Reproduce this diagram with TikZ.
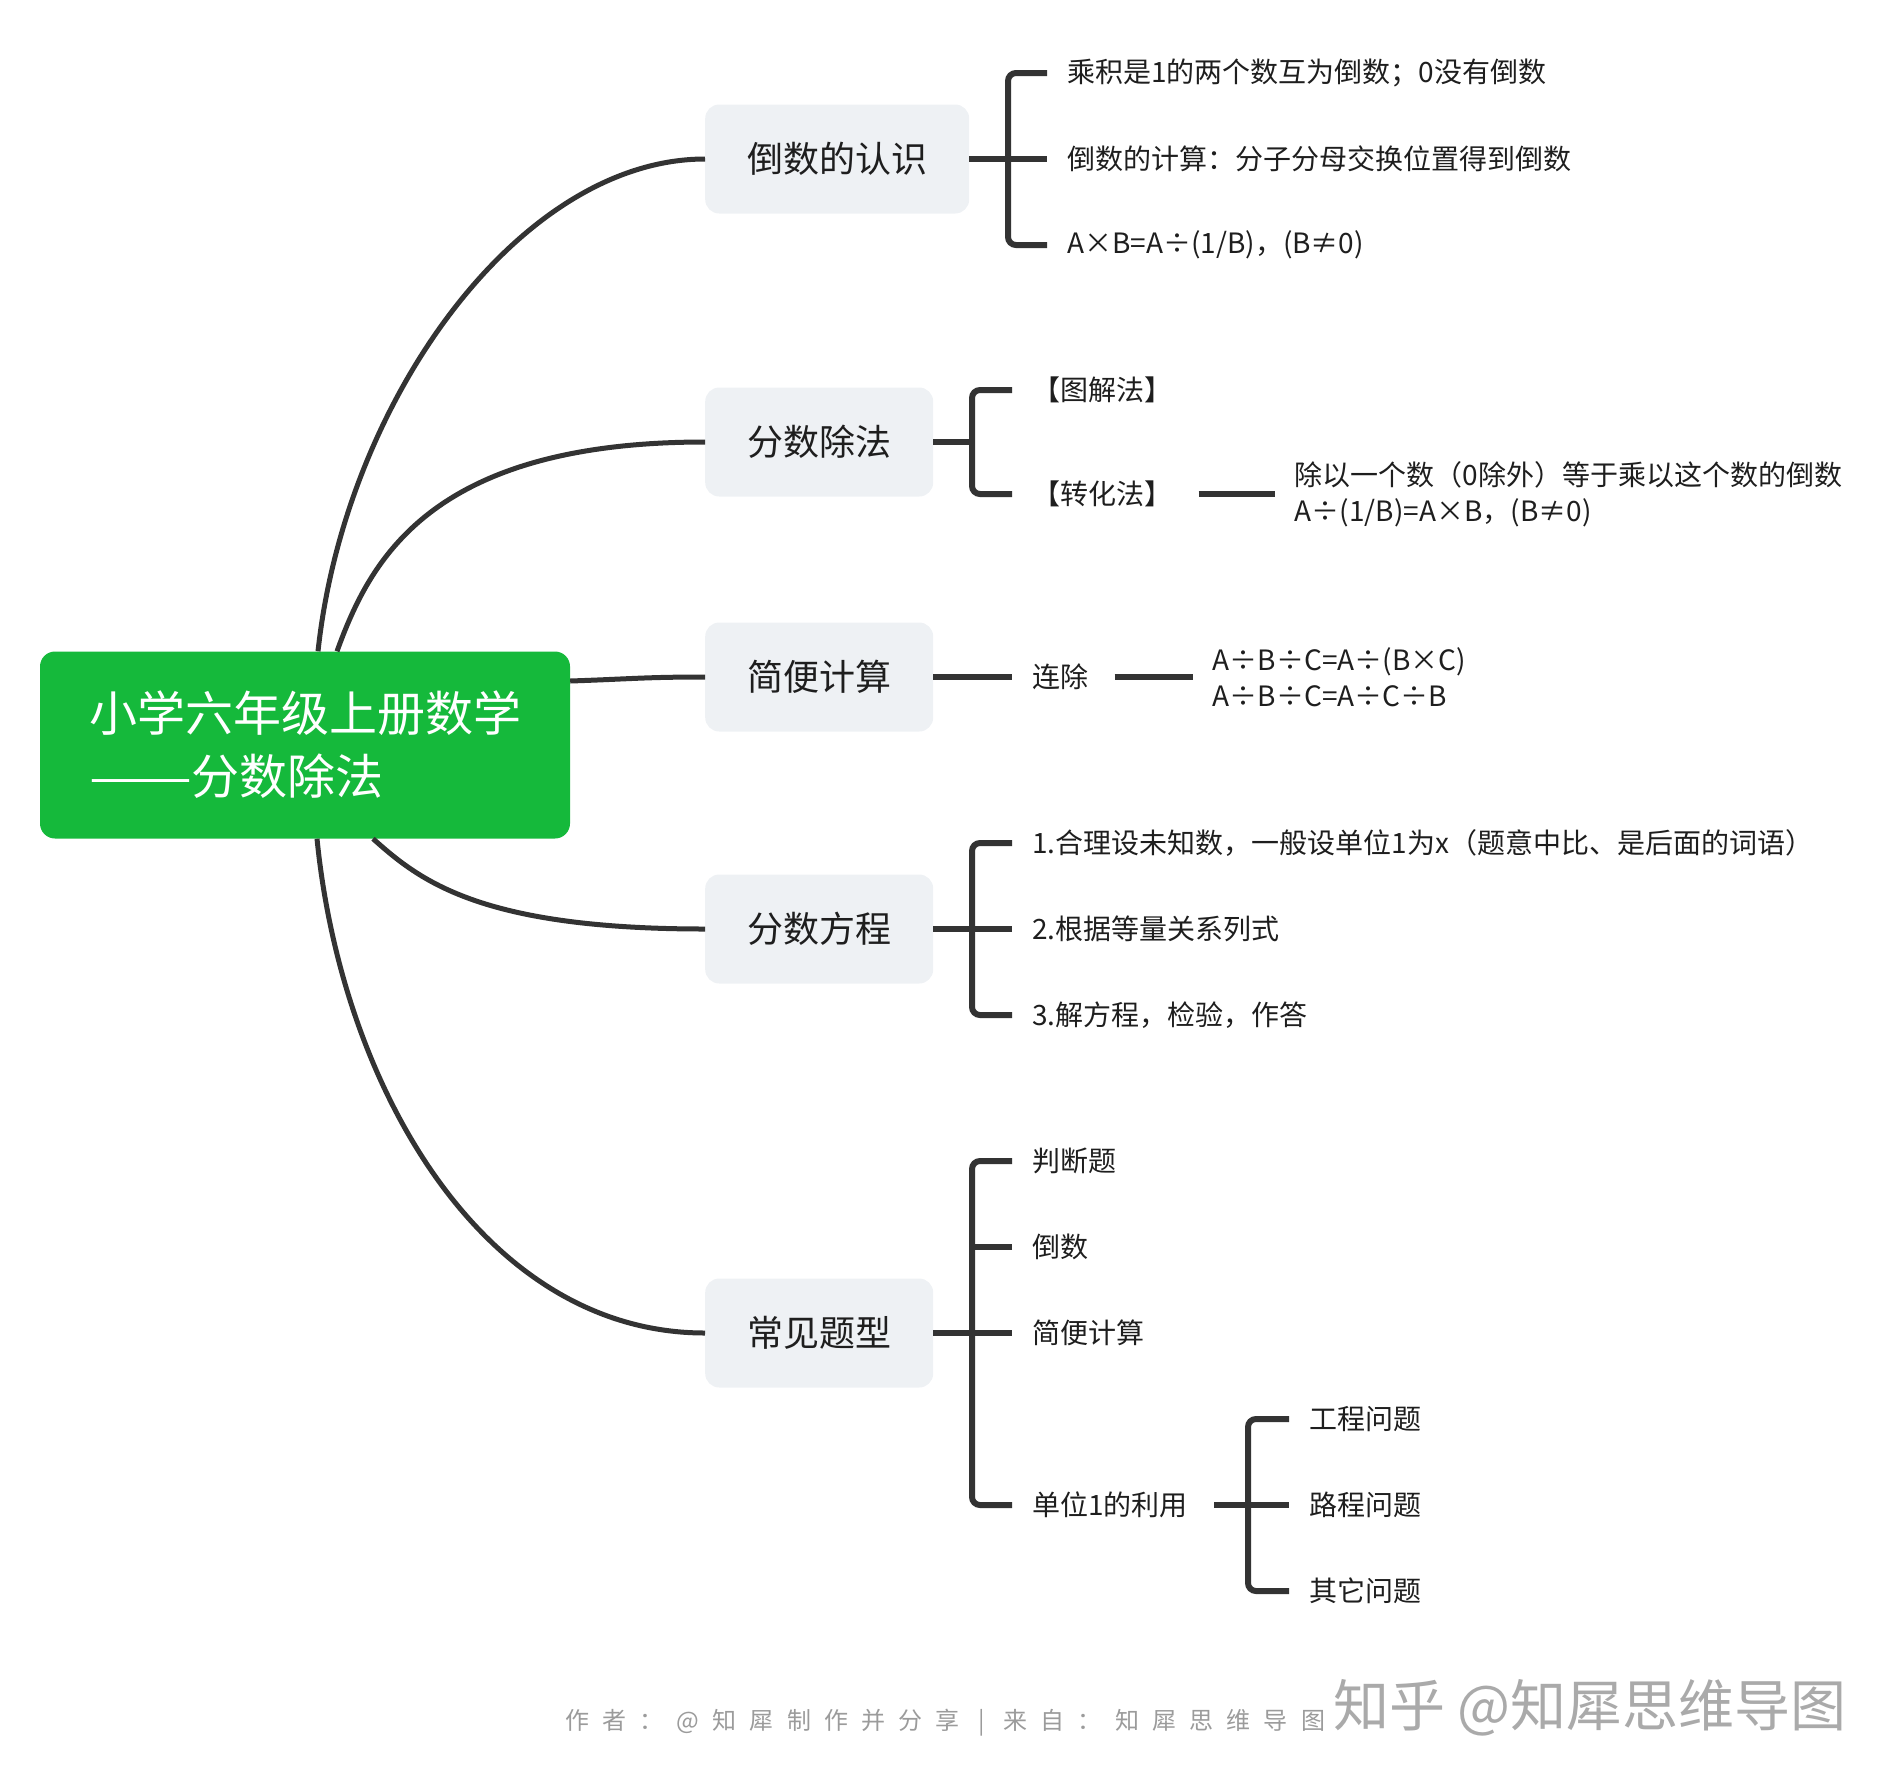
\documentclass[tikz,border=0pt]{standalone}
\usepackage{fontspec}
\setmainfont{Noto Sans CJK SC}
\usepackage{tikz}
\usetikzlibrary{positioning}
\definecolor{rootgreen}{HTML}{15B93B}
\definecolor{topicfill}{HTML}{EEF1F4}
\definecolor{linkgray}{HTML}{333333}
\definecolor{inkgray}{HTML}{1E1E1E}
\definecolor{markgray}{HTML}{9B9B9B}
\newcommand{\longdash}{{\addfontfeature{FakeStretch = 1.28}——}}

\begin{document}
\begin{tikzpicture}[x = 1pt, y = -1pt,
    rootbox/.style = { fill = rootgreen, text = white, rounded corners = 15pt, align = left,
      minimum width = 530pt, minimum height = 187pt, inner sep = 0pt,
      font = \fontsize{48}{63}\selectfont },
    topic/.style = { fill = topicfill, text = inkgray, rounded corners = 14pt, anchor = west,
      minimum height = 109pt, inner xsep = 42pt, font = \fontsize{36}{43}\selectfont },
    leaf/.style = { anchor = west, inner xsep = 20pt, inner ysep = 4pt, align = left,
      text = inkgray, font = \fontsize{28}{36}\selectfont },
    branch/.style = { draw = linkgray, line width = 5pt },
    bracketline/.style = { draw = linkgray, line width = 6pt, rounded corners = 8pt },
    credit/.style = { anchor = west, text = markgray, inner sep = 0pt,
      font = {\fontsize{24}{28}\selectfont\addfontfeature{LetterSpace = 55}} },
    brandmark/.style = { anchor = west, text = markgray!85, inner sep = 0pt,
      font = \fontsize{56}{60}\selectfont }]
    \useasboundingbox (0,0) rectangle (1900,1786);

    \node[rootbox] (root) at (305,745) { 小学六年级上册数学\\\longdash 分数除法 };

    \node[topic] (n1) at (705,159) { 倒数的认识 };
    \node[topic] (n2) at (705,442) { 分数除法 };
    \node[topic] (n3) at (705,677) { 简便计算 };
    \node[topic] (n4) at (705,929) { 分数方程 };
    \node[topic] (n5) at (705,1333) { 常见题型 };

    \node[leaf] (l11) at (1047,73) { 乘积是1的两个数互为倒数；0没有倒数 };
    \node[leaf] (l12) at (1047,159) { 倒数的计算：分子分母交换位置得到倒数 };
    \node[leaf] (l13) at (1047,245) { A×B=A÷(1/B)，(B≠0) };
    \node[leaf] (l21) at (1012,390) { 【图解法】 };
    \node[leaf] (l22) at (1012,494) { 【转化法】 };
    \node[leaf, right = 76pt of l22] (l23) { 除以一个数（0除外）等于乘以这个数的倒数\\A÷(1/B)=A×B，(B≠0) };
    \node[leaf] (l31) at (1012,677) { 连除 };
    \node[leaf, right = 78pt of l31] (l32) { A÷B÷C=A÷(B×C)\\A÷B÷C=A÷C÷B };
    \node[leaf] (l41) at (1012,843) { 1.合理设未知数，一般设单位1为x（题意中比、是后面的词语） };
    \node[leaf] (l42) at (1012,929) { 2.根据等量关系列式 };
    \node[leaf] (l43) at (1012,1015) { 3.解方程，检验，作答 };
    \node[leaf] (l51) at (1012,1161) { 判断题 };
    \node[leaf] (l52) at (1012,1247) { 倒数 };
    \node[leaf] (l53) at (1012,1333) { 简便计算 };
    \node[leaf] (l54) at (1012,1505) { 单位1的利用 };
    \node[leaf] (l61) at (1289,1419) { 工程问题 };
    \node[leaf] (l62) at (1289,1505) { 路程问题 };
    \node[leaf] (l63) at (1289,1591) { 其它问题 };

    \coordinate (b1) at (1008,159);
    \coordinate (b2) at (972,442);
    \coordinate (b4) at (972,929);
    \coordinate (b5) at (972,1333);
    \coordinate (b6) at (1248,1505);

    \draw[branch] ([xshift=13pt]root.north) .. controls +(27,-251) and +(-185,0) .. (n1.west);
    \draw[branch] ([xshift=32pt]root.north) .. controls +(33,-91) and +(-275,0) .. (n2.west);
    \draw[branch] ([yshift=64pt]root.east) .. controls +(60,-2) and +(-60,0) .. (n3.west);
    \draw[branch] ([xshift=68pt]root.south) .. controls +(47,42) and +(-225,0) .. (n4.west);
    \draw[branch] ([xshift=12pt]root.south) .. controls +(25,251) and +(-220,0) .. (n5.west);

    \draw[bracketline] (n1.east) -- (l12.west);
    \draw[bracketline] (l11.west) -| (b1) |- (l13.west);
    \draw[bracketline] (n2.east) -- (b2);
    \draw[bracketline] (l21.west) -| (b2) |- (l22.west);
    \draw[bracketline] (l22.east) -- (l23.west);
    \draw[bracketline] (n3.east) -- (l31.west);
    \draw[bracketline] (l31.east) -- (l32.west);
    \draw[bracketline] (n4.east) -- (l42.west);
    \draw[bracketline] (l41.west) -| (b4) |- (l43.west);
    \draw[bracketline] (n5.east) -- (l53.west);
    \draw[bracketline] (l51.west) -| (b5) |- (l54.west);
    \draw[bracketline] (l52.west) -- (l52.west -| b5);
    \draw[bracketline] (l54.east) -- (l62.west);
    \draw[bracketline] (l61.west) -| (b6) |- (l63.west);

    \node[credit] (credit) at (565,1723) { 作者：@知犀制作并分享 | 来自：知犀思维导图 };
    \node[brandmark] (brand) at (1333,1708) { 知乎 @知犀思维导图 };
\end{tikzpicture}
\end{document}
